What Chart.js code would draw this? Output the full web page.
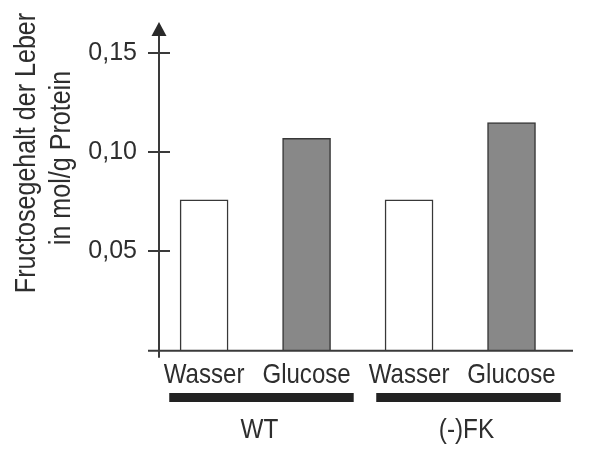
<!DOCTYPE html>
<html>
<head>
<meta charset="utf-8">
<script src="https://cdn.jsdelivr.net/npm/chart.js@4.4.0/dist/chart.umd.min.js"></script>
<style>
  html, body { margin: 0; padding: 0; background: #fff; }
  #wrap { width: 602px; height: 461px; }
</style>
</head>
<body>
<div id="wrap"><canvas id="myChart" width="602" height="461"></canvas></div>
<script>
// Daten aus der Abbildung
const categories = ["Wasser", "Glucose", "Wasser", "Glucose"];
const values = [0.076, 0.107, 0.076, 0.115];
const groups = ["WT", "(-)FK"];
const yTicks = [0.05, 0.10, 0.15];
const yTitle = ["Fructosegehalt der Leber", "in mol/g Protein"];

const ink = "#2e2e2e";
const sans = "'Liberation Sans', Arial, sans-serif";

// schmal gesetzter Text (die Vorlage nutzt eine Condensed-Schrift)
function narrowText(ctx, text, x, y, size, sx) {
    ctx.save();
    ctx.translate(x, y);
    ctx.scale(sx, 1);
    ctx.font = size + "px " + sans;
    ctx.fillStyle = ink;
    ctx.textAlign = "center";
    ctx.textBaseline = "alphabetic";
    ctx.fillText(text, 0, 0);
    ctx.restore();
}

// Achsen, Pfeil, Beschriftungen, Gruppenbalken und Achsentitel
const decor = {
    id: "decor",
    afterDatasetsDraw(chart) {
        const ctx = chart.ctx;
        const x = chart.scales.x;
        const y = chart.scales.y;
        const area = chart.chartArea;
        const x0 = area.left, y0 = area.bottom;

        ctx.save();
        ctx.strokeStyle = "#3a3a3a";
        ctx.fillStyle = "#2a2a2a";
        ctx.lineWidth = 2;

        // x-Achse
        ctx.beginPath();
        ctx.moveTo(x0 - 11, y0);
        ctx.lineTo(area.right, y0);
        ctx.stroke();

        // y-Achse mit Pfeil
        ctx.beginPath();
        ctx.moveTo(x0, y0 + 7);
        ctx.lineTo(x0, area.top - 18);
        ctx.stroke();
        ctx.beginPath();
        ctx.moveTo(x0, area.top - 31);
        ctx.lineTo(x0 - 7.5, area.top - 17);
        ctx.lineTo(x0 + 7.5, area.top - 17);
        ctx.closePath();
        ctx.fill();

        // Teilstriche
        yTicks.forEach(v => {
            const py = Math.round(y.getPixelForValue(v));
            ctx.beginPath();
            ctx.moveTo(x0 - 11, py);
            ctx.lineTo(x0 + 11, py);
            ctx.stroke();
        });

        // Kategorien unter den Balken
        categories.forEach((c, i) => {
            narrowText(ctx, c, x.getPixelForValue(i), y0 + 32, 28, 0.86);
        });

        // Gruppenbalken und Gruppennamen
        const spans = [[-0.34, 1.46], [1.68, 3.48]];
        groups.forEach((g, i) => {
            const a = x.getPixelForValue(spans[i][0]);
            const b = x.getPixelForValue(spans[i][1]);
            ctx.fillStyle = "#222";
            ctx.fillRect(a, 393, b - a, 9);
            narrowText(ctx, g, (a + b) / 2 - 2, 438, 27, 0.9);
        });

        // Titel der y-Achse
        ctx.translate(35, 155);
        ctx.rotate(-Math.PI / 2);
        narrowText(ctx, yTitle[0], 2, 0, 29, 0.865);
        narrowText(ctx, yTitle[1], -3, 35, 29, 0.865);
        ctx.restore();
    }
};

const ctx = document.getElementById("myChart").getContext("2d");
const chart = new Chart(ctx, {
    type: "bar",
    data: {
        datasets: [{
            data: values.map((v, i) => ({ x: i, y: v })),
            backgroundColor: values.map((v, i) => categories[i] === "Glucose" ? "#888888" : "#ffffff"),
            borderColor: "#383838",
            borderWidth: 1.5,
            barThickness: 48
        }]
    },
    options: {
        responsive: false,
        animation: false,
        layout: { padding: { top: 53, right: 29, left: 0, bottom: 0 } },
        plugins: { legend: { display: false }, tooltip: { enabled: false } },
        scales: {
            x: {
                type: "linear",
                min: -0.44,
                max: 3.6,
                offset: false,
                afterFit: s => { s.height = 110.3; },
                grid: { display: false, drawTicks: false },
                border: { display: false },
                ticks: { display: false }
            },
            y: {
                min: 0,
                max: 0.15,
                afterFit: s => { s.width = 159; },
                afterBuildTicks: s => { s.ticks = yTicks.map(v => ({ value: v })); },
                grid: { display: false, drawTicks: false },
                border: { display: false },
                ticks: {
                    callback: v => v.toFixed(2).replace(".", ","),
                    color: ink,
                    padding: 22,
                    font: { family: sans, size: 25 }
                }
            }
        }
    },
    plugins: [decor]
});
</script>
</body>
</html>
